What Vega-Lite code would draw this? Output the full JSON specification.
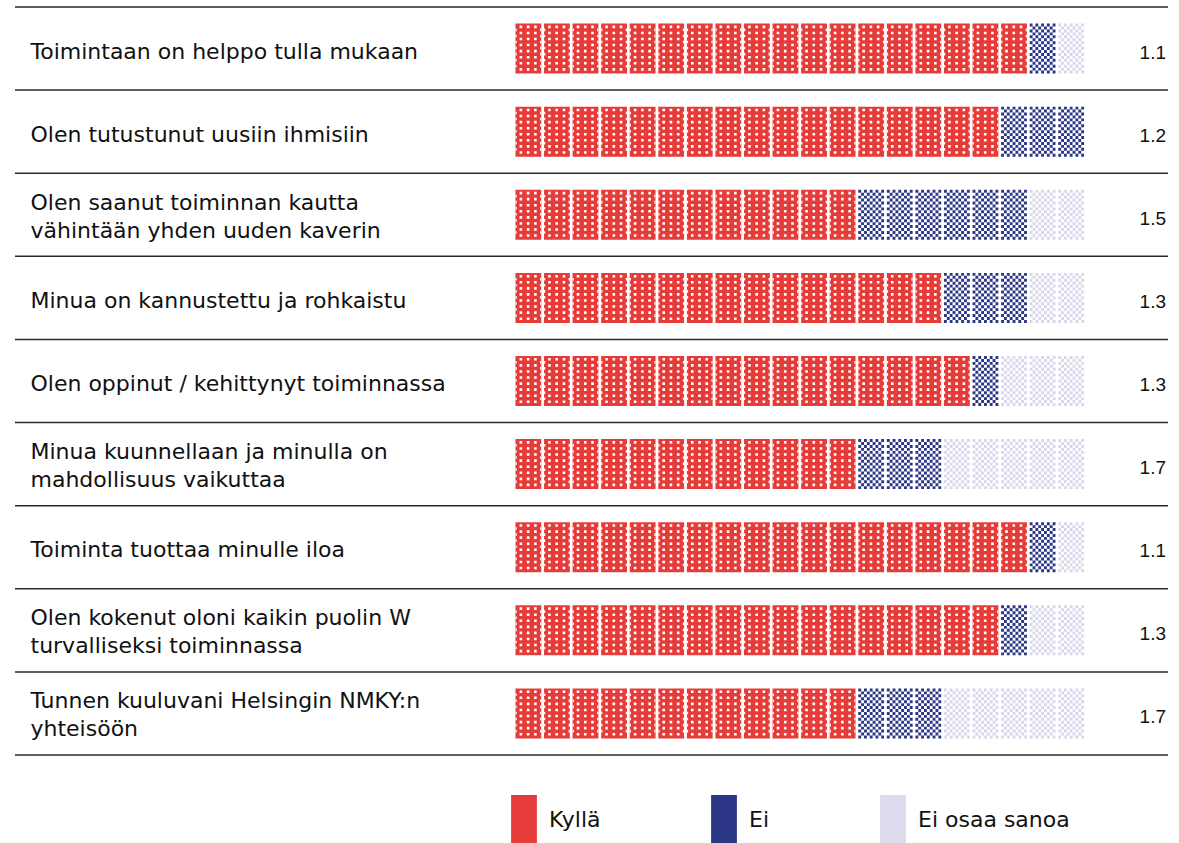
{
  "$schema": "https://vega.github.io/schema/vega-lite/v6.json",
  "width": 1153,
  "height": 748,
  "autosize": {"type": "none"},
  "padding": {"left": 15, "top": 7, "right": 11, "bottom": 88},
  "config": {"view": {"stroke": null}, "font": "DejaVu Sans"},
  "datasets": {
    "questions": [
      {"q": 1, "label": "Toimintaan on helppo tulla mukaan", "avg": 1.1},
      {"q": 2, "label": "Olen tutustunut uusiin ihmisiin", "avg": 1.2},
      {"q": 3, "label": "Olen saanut toiminnan kautta|vähintään yhden uuden kaverin", "avg": 1.5},
      {"q": 4, "label": "Minua on kannustettu ja rohkaistu", "avg": 1.3},
      {"q": 5, "label": "Olen oppinut / kehittynyt toiminnassa", "avg": 1.3},
      {"q": 6, "label": "Minua kuunnellaan ja minulla on|mahdollisuus vaikuttaa", "avg": 1.7},
      {"q": 7, "label": "Toiminta tuottaa minulle iloa", "avg": 1.1},
      {"q": 8, "label": "Olen kokenut oloni kaikin puolin W|turvalliseksi toiminnassa", "avg": 1.3},
      {"q": 9, "label": "Tunnen kuuluvani Helsingin NMKY:n|yhteisöön", "avg": 1.7}
    ],
    "units": [
      {"q":1,"u":1,"c":"Kyllä"},{"q":1,"u":2,"c":"Kyllä"},{"q":1,"u":3,"c":"Kyllä"},{"q":1,"u":4,"c":"Kyllä"},{"q":1,"u":5,"c":"Kyllä"},{"q":1,"u":6,"c":"Kyllä"},{"q":1,"u":7,"c":"Kyllä"},{"q":1,"u":8,"c":"Kyllä"},{"q":1,"u":9,"c":"Kyllä"},{"q":1,"u":10,"c":"Kyllä"},{"q":1,"u":11,"c":"Kyllä"},{"q":1,"u":12,"c":"Kyllä"},{"q":1,"u":13,"c":"Kyllä"},{"q":1,"u":14,"c":"Kyllä"},{"q":1,"u":15,"c":"Kyllä"},{"q":1,"u":16,"c":"Kyllä"},{"q":1,"u":17,"c":"Kyllä"},{"q":1,"u":18,"c":"Kyllä"},{"q":1,"u":19,"c":"Ei"},{"q":1,"u":20,"c":"Ei osaa sanoa"},
      {"q":2,"u":1,"c":"Kyllä"},{"q":2,"u":2,"c":"Kyllä"},{"q":2,"u":3,"c":"Kyllä"},{"q":2,"u":4,"c":"Kyllä"},{"q":2,"u":5,"c":"Kyllä"},{"q":2,"u":6,"c":"Kyllä"},{"q":2,"u":7,"c":"Kyllä"},{"q":2,"u":8,"c":"Kyllä"},{"q":2,"u":9,"c":"Kyllä"},{"q":2,"u":10,"c":"Kyllä"},{"q":2,"u":11,"c":"Kyllä"},{"q":2,"u":12,"c":"Kyllä"},{"q":2,"u":13,"c":"Kyllä"},{"q":2,"u":14,"c":"Kyllä"},{"q":2,"u":15,"c":"Kyllä"},{"q":2,"u":16,"c":"Kyllä"},{"q":2,"u":17,"c":"Kyllä"},{"q":2,"u":18,"c":"Ei"},{"q":2,"u":19,"c":"Ei"},{"q":2,"u":20,"c":"Ei"},
      {"q":3,"u":1,"c":"Kyllä"},{"q":3,"u":2,"c":"Kyllä"},{"q":3,"u":3,"c":"Kyllä"},{"q":3,"u":4,"c":"Kyllä"},{"q":3,"u":5,"c":"Kyllä"},{"q":3,"u":6,"c":"Kyllä"},{"q":3,"u":7,"c":"Kyllä"},{"q":3,"u":8,"c":"Kyllä"},{"q":3,"u":9,"c":"Kyllä"},{"q":3,"u":10,"c":"Kyllä"},{"q":3,"u":11,"c":"Kyllä"},{"q":3,"u":12,"c":"Kyllä"},{"q":3,"u":13,"c":"Ei"},{"q":3,"u":14,"c":"Ei"},{"q":3,"u":15,"c":"Ei"},{"q":3,"u":16,"c":"Ei"},{"q":3,"u":17,"c":"Ei"},{"q":3,"u":18,"c":"Ei"},{"q":3,"u":19,"c":"Ei osaa sanoa"},{"q":3,"u":20,"c":"Ei osaa sanoa"},
      {"q":4,"u":1,"c":"Kyllä"},{"q":4,"u":2,"c":"Kyllä"},{"q":4,"u":3,"c":"Kyllä"},{"q":4,"u":4,"c":"Kyllä"},{"q":4,"u":5,"c":"Kyllä"},{"q":4,"u":6,"c":"Kyllä"},{"q":4,"u":7,"c":"Kyllä"},{"q":4,"u":8,"c":"Kyllä"},{"q":4,"u":9,"c":"Kyllä"},{"q":4,"u":10,"c":"Kyllä"},{"q":4,"u":11,"c":"Kyllä"},{"q":4,"u":12,"c":"Kyllä"},{"q":4,"u":13,"c":"Kyllä"},{"q":4,"u":14,"c":"Kyllä"},{"q":4,"u":15,"c":"Kyllä"},{"q":4,"u":16,"c":"Ei"},{"q":4,"u":17,"c":"Ei"},{"q":4,"u":18,"c":"Ei"},{"q":4,"u":19,"c":"Ei osaa sanoa"},{"q":4,"u":20,"c":"Ei osaa sanoa"},
      {"q":5,"u":1,"c":"Kyllä"},{"q":5,"u":2,"c":"Kyllä"},{"q":5,"u":3,"c":"Kyllä"},{"q":5,"u":4,"c":"Kyllä"},{"q":5,"u":5,"c":"Kyllä"},{"q":5,"u":6,"c":"Kyllä"},{"q":5,"u":7,"c":"Kyllä"},{"q":5,"u":8,"c":"Kyllä"},{"q":5,"u":9,"c":"Kyllä"},{"q":5,"u":10,"c":"Kyllä"},{"q":5,"u":11,"c":"Kyllä"},{"q":5,"u":12,"c":"Kyllä"},{"q":5,"u":13,"c":"Kyllä"},{"q":5,"u":14,"c":"Kyllä"},{"q":5,"u":15,"c":"Kyllä"},{"q":5,"u":16,"c":"Kyllä"},{"q":5,"u":17,"c":"Ei"},{"q":5,"u":18,"c":"Ei osaa sanoa"},{"q":5,"u":19,"c":"Ei osaa sanoa"},{"q":5,"u":20,"c":"Ei osaa sanoa"},
      {"q":6,"u":1,"c":"Kyllä"},{"q":6,"u":2,"c":"Kyllä"},{"q":6,"u":3,"c":"Kyllä"},{"q":6,"u":4,"c":"Kyllä"},{"q":6,"u":5,"c":"Kyllä"},{"q":6,"u":6,"c":"Kyllä"},{"q":6,"u":7,"c":"Kyllä"},{"q":6,"u":8,"c":"Kyllä"},{"q":6,"u":9,"c":"Kyllä"},{"q":6,"u":10,"c":"Kyllä"},{"q":6,"u":11,"c":"Kyllä"},{"q":6,"u":12,"c":"Kyllä"},{"q":6,"u":13,"c":"Ei"},{"q":6,"u":14,"c":"Ei"},{"q":6,"u":15,"c":"Ei"},{"q":6,"u":16,"c":"Ei osaa sanoa"},{"q":6,"u":17,"c":"Ei osaa sanoa"},{"q":6,"u":18,"c":"Ei osaa sanoa"},{"q":6,"u":19,"c":"Ei osaa sanoa"},{"q":6,"u":20,"c":"Ei osaa sanoa"},
      {"q":7,"u":1,"c":"Kyllä"},{"q":7,"u":2,"c":"Kyllä"},{"q":7,"u":3,"c":"Kyllä"},{"q":7,"u":4,"c":"Kyllä"},{"q":7,"u":5,"c":"Kyllä"},{"q":7,"u":6,"c":"Kyllä"},{"q":7,"u":7,"c":"Kyllä"},{"q":7,"u":8,"c":"Kyllä"},{"q":7,"u":9,"c":"Kyllä"},{"q":7,"u":10,"c":"Kyllä"},{"q":7,"u":11,"c":"Kyllä"},{"q":7,"u":12,"c":"Kyllä"},{"q":7,"u":13,"c":"Kyllä"},{"q":7,"u":14,"c":"Kyllä"},{"q":7,"u":15,"c":"Kyllä"},{"q":7,"u":16,"c":"Kyllä"},{"q":7,"u":17,"c":"Kyllä"},{"q":7,"u":18,"c":"Kyllä"},{"q":7,"u":19,"c":"Ei"},{"q":7,"u":20,"c":"Ei osaa sanoa"},
      {"q":8,"u":1,"c":"Kyllä"},{"q":8,"u":2,"c":"Kyllä"},{"q":8,"u":3,"c":"Kyllä"},{"q":8,"u":4,"c":"Kyllä"},{"q":8,"u":5,"c":"Kyllä"},{"q":8,"u":6,"c":"Kyllä"},{"q":8,"u":7,"c":"Kyllä"},{"q":8,"u":8,"c":"Kyllä"},{"q":8,"u":9,"c":"Kyllä"},{"q":8,"u":10,"c":"Kyllä"},{"q":8,"u":11,"c":"Kyllä"},{"q":8,"u":12,"c":"Kyllä"},{"q":8,"u":13,"c":"Kyllä"},{"q":8,"u":14,"c":"Kyllä"},{"q":8,"u":15,"c":"Kyllä"},{"q":8,"u":16,"c":"Kyllä"},{"q":8,"u":17,"c":"Kyllä"},{"q":8,"u":18,"c":"Ei"},{"q":8,"u":19,"c":"Ei osaa sanoa"},{"q":8,"u":20,"c":"Ei osaa sanoa"},
      {"q":9,"u":1,"c":"Kyllä"},{"q":9,"u":2,"c":"Kyllä"},{"q":9,"u":3,"c":"Kyllä"},{"q":9,"u":4,"c":"Kyllä"},{"q":9,"u":5,"c":"Kyllä"},{"q":9,"u":6,"c":"Kyllä"},{"q":9,"u":7,"c":"Kyllä"},{"q":9,"u":8,"c":"Kyllä"},{"q":9,"u":9,"c":"Kyllä"},{"q":9,"u":10,"c":"Kyllä"},{"q":9,"u":11,"c":"Kyllä"},{"q":9,"u":12,"c":"Kyllä"},{"q":9,"u":13,"c":"Ei"},{"q":9,"u":14,"c":"Ei"},{"q":9,"u":15,"c":"Ei"},{"q":9,"u":16,"c":"Ei osaa sanoa"},{"q":9,"u":17,"c":"Ei osaa sanoa"},{"q":9,"u":18,"c":"Ei osaa sanoa"},{"q":9,"u":19,"c":"Ei osaa sanoa"},{"q":9,"u":20,"c":"Ei osaa sanoa"}
    ]
  },
  "encoding": {
    "y": {
      "field": "label",
      "type": "nominal",
      "sort": {"field": "q", "op": "min"},
      "scale": {"paddingInner": 0, "paddingOuter": 0},
      "axis": {
        "title": null,
        "domain": false,
        "ticks": false,
        "grid": false,
        "labelAlign": "left",
        "labelBaseline": "middle",
        "labelPadding": -15,
        "labelFont": "DejaVu Sans",
        "labelFontSize": 22,
        "labelColor": "#111111",
        "labelLimit": 0,
        "labelOverlap": false,
        "labelLineHeight": 28,
        "labelExpr": "split(datum.label, '|')",
        "labelOffset": {"condition": {"test": "indexof(datum.value, '|') >= 0", "value": -12}, "value": 3}
      }
    }
  },
  "layer": [
    {
      "data": {"name": "questions"},
      "mark": {"type": "rule", "color": "#2a2a2a", "strokeWidth": 1.5},
      "encoding": {
        "y": {
          "field": "label",
          "type": "nominal",
          "sort": {"field": "q", "op": "min"},
          "bandPosition": 0
        }
      }
    },
    {
      "data": {"values": [{}]},
      "mark": {"type": "rule", "color": "#2a2a2a", "strokeWidth": 1.5},
      "encoding": {"y": {"value": "height"}}
    },
    {
      "data": {"name": "units"},
      "transform": [
        {"lookup": "q", "from": {"data": {"name": "questions"}, "key": "q", "fields": ["label"]}},
        {"filter": "datum.c === 'Kyllä'"}
      ],
      "mark": {"type": "point", "filled": true, "opacity": 1, "strokeWidth": 0, "size": 2500, "shape": "M-0.516 -1h1.032v2h-1.032z"},
      "encoding": {
        "x": {"field": "u", "type": "quantitative", "scale": {"domain": [-16.97, 23.39], "nice": false, "zero": false}, "axis": null},
        "color": {
          "field": "c",
          "type": "nominal",
          "scale": {"domain": ["Kyllä", "Ei", "Ei osaa sanoa"], "range": ["#e63c39", "#2b3786", "#dcdcee"]},
          "legend": {
            "title": null,
            "orient": "none",
            "direction": "horizontal",
            "legendX": 484,
            "legendY": 788,
            "padding": 0,
            "columnPadding": 98,
            "labelOffset": 0,
            "symbolType": "M-0.516 -1h1.032v2h-1.032z",
            "symbolSize": 2500,
            "symbolStrokeWidth": 0,
            "symbolOpacity": 1,
            "labelFont": "DejaVu Sans",
            "labelFontSize": 22,
            "labelColor": "#111111"
          }
        }
      }
    },
    {
      "data": {"name": "units"},
      "transform": [
        {"lookup": "q", "from": {"data": {"name": "questions"}, "key": "q", "fields": ["label"]}},
        {"filter": "datum.c === 'Kyllä'"}
      ],
      "mark": {"type": "point", "filled": true, "opacity": 1, "strokeWidth": 0, "size": 2500, "fill": "#ffffff",
        "shape": "M-0.352 -0.92h0.104v0.104h-0.104v-0.104m0.29 0h0.104v0.104h-0.104v-0.104m0.29 0h0.104v0.104h-0.104v-0.104M-0.352 -0.6772h0.104v0.104h-0.104v-0.104m0.29 0h0.104v0.104h-0.104v-0.104m0.29 0h0.104v0.104h-0.104v-0.104M-0.352 -0.4344h0.104v0.104h-0.104v-0.104m0.29 0h0.104v0.104h-0.104v-0.104m0.29 0h0.104v0.104h-0.104v-0.104M-0.352 -0.1916h0.104v0.104h-0.104v-0.104m0.29 0h0.104v0.104h-0.104v-0.104m0.29 0h0.104v0.104h-0.104v-0.104M-0.352 0.0512h0.104v0.104h-0.104v-0.104m0.29 0h0.104v0.104h-0.104v-0.104m0.29 0h0.104v0.104h-0.104v-0.104M-0.352 0.294h0.104v0.104h-0.104v-0.104m0.29 0h0.104v0.104h-0.104v-0.104m0.29 0h0.104v0.104h-0.104v-0.104M-0.352 0.5368h0.104v0.104h-0.104v-0.104m0.29 0h0.104v0.104h-0.104v-0.104m0.29 0h0.104v0.104h-0.104v-0.104M-0.352 0.7796h0.104v0.104h-0.104v-0.104m0.29 0h0.104v0.104h-0.104v-0.104m0.29 0h0.104v0.104h-0.104v-0.104M-0.516 -0.8h0.05v0.104h-0.05v-0.104m0.982 0h0.05v0.104h-0.05v-0.104M-0.516 -0.5572h0.05v0.104h-0.05v-0.104m0.982 0h0.05v0.104h-0.05v-0.104M-0.516 -0.3144h0.05v0.104h-0.05v-0.104m0.982 0h0.05v0.104h-0.05v-0.104M-0.516 -0.0716h0.05v0.104h-0.05v-0.104m0.982 0h0.05v0.104h-0.05v-0.104M-0.516 0.1712h0.05v0.104h-0.05v-0.104m0.982 0h0.05v0.104h-0.05v-0.104M-0.516 0.414h0.05v0.104h-0.05v-0.104m0.982 0h0.05v0.104h-0.05v-0.104M-0.516 0.6568h0.05v0.104h-0.05v-0.104m0.982 0h0.05v0.104h-0.05v-0.104"},
      "encoding": {
        "x": {"field": "u", "type": "quantitative", "scale": {"domain": [-16.97, 23.39], "nice": false, "zero": false}, "axis": null}
      }
    },
    {
      "data": {"name": "units"},
      "transform": [
        {"lookup": "q", "from": {"data": {"name": "questions"}, "key": "q", "fields": ["label"]}},
        {"filter": "datum.c === 'Ei'"}
      ],
      "mark": {"type": "point", "filled": true, "opacity": 1, "strokeWidth": 0, "size": 2500, "fill": "#2b3786",
        "shape": "M-0.516 -1h0.1147v0.1176h-0.1147v-0.1176m0.2293 0h0.1147v0.1176h-0.1147v-0.1176m0.2293 0h0.1147v0.1176h-0.1147v-0.1176m0.2293 0h0.1147v0.1176h-0.1147v-0.1176m0.2293 0h0.1147v0.1176h-0.1147v-0.1176M-0.4013 -0.8824h0.1147v0.1176h-0.1147v-0.1176m0.2293 0h0.1147v0.1176h-0.1147v-0.1176m0.2293 0h0.1147v0.1176h-0.1147v-0.1176m0.2293 0h0.1147v0.1176h-0.1147v-0.1176M-0.516 -0.7647h0.1147v0.1176h-0.1147v-0.1176m0.2293 0h0.1147v0.1176h-0.1147v-0.1176m0.2293 0h0.1147v0.1176h-0.1147v-0.1176m0.2293 0h0.1147v0.1176h-0.1147v-0.1176m0.2293 0h0.1147v0.1176h-0.1147v-0.1176M-0.4013 -0.6471h0.1147v0.1176h-0.1147v-0.1176m0.2293 0h0.1147v0.1176h-0.1147v-0.1176m0.2293 0h0.1147v0.1176h-0.1147v-0.1176m0.2293 0h0.1147v0.1176h-0.1147v-0.1176M-0.516 -0.5294h0.1147v0.1176h-0.1147v-0.1176m0.2293 0h0.1147v0.1176h-0.1147v-0.1176m0.2293 0h0.1147v0.1176h-0.1147v-0.1176m0.2293 0h0.1147v0.1176h-0.1147v-0.1176m0.2293 0h0.1147v0.1176h-0.1147v-0.1176M-0.4013 -0.4118h0.1147v0.1176h-0.1147v-0.1176m0.2293 0h0.1147v0.1176h-0.1147v-0.1176m0.2293 0h0.1147v0.1176h-0.1147v-0.1176m0.2293 0h0.1147v0.1176h-0.1147v-0.1176M-0.516 -0.2941h0.1147v0.1176h-0.1147v-0.1176m0.2293 0h0.1147v0.1176h-0.1147v-0.1176m0.2293 0h0.1147v0.1176h-0.1147v-0.1176m0.2293 0h0.1147v0.1176h-0.1147v-0.1176m0.2293 0h0.1147v0.1176h-0.1147v-0.1176M-0.4013 -0.1765h0.1147v0.1176h-0.1147v-0.1176m0.2293 0h0.1147v0.1176h-0.1147v-0.1176m0.2293 0h0.1147v0.1176h-0.1147v-0.1176m0.2293 0h0.1147v0.1176h-0.1147v-0.1176M-0.516 -0.0588h0.1147v0.1176h-0.1147v-0.1176m0.2293 0h0.1147v0.1176h-0.1147v-0.1176m0.2293 0h0.1147v0.1176h-0.1147v-0.1176m0.2293 0h0.1147v0.1176h-0.1147v-0.1176m0.2293 0h0.1147v0.1176h-0.1147v-0.1176M-0.4013 0.0588h0.1147v0.1176h-0.1147v-0.1176m0.2293 0h0.1147v0.1176h-0.1147v-0.1176m0.2293 0h0.1147v0.1176h-0.1147v-0.1176m0.2293 0h0.1147v0.1176h-0.1147v-0.1176M-0.516 0.1765h0.1147v0.1176h-0.1147v-0.1176m0.2293 0h0.1147v0.1176h-0.1147v-0.1176m0.2293 0h0.1147v0.1176h-0.1147v-0.1176m0.2293 0h0.1147v0.1176h-0.1147v-0.1176m0.2293 0h0.1147v0.1176h-0.1147v-0.1176M-0.4013 0.2941h0.1147v0.1176h-0.1147v-0.1176m0.2293 0h0.1147v0.1176h-0.1147v-0.1176m0.2293 0h0.1147v0.1176h-0.1147v-0.1176m0.2293 0h0.1147v0.1176h-0.1147v-0.1176M-0.516 0.4118h0.1147v0.1176h-0.1147v-0.1176m0.2293 0h0.1147v0.1176h-0.1147v-0.1176m0.2293 0h0.1147v0.1176h-0.1147v-0.1176m0.2293 0h0.1147v0.1176h-0.1147v-0.1176m0.2293 0h0.1147v0.1176h-0.1147v-0.1176M-0.4013 0.5294h0.1147v0.1176h-0.1147v-0.1176m0.2293 0h0.1147v0.1176h-0.1147v-0.1176m0.2293 0h0.1147v0.1176h-0.1147v-0.1176m0.2293 0h0.1147v0.1176h-0.1147v-0.1176M-0.516 0.6471h0.1147v0.1176h-0.1147v-0.1176m0.2293 0h0.1147v0.1176h-0.1147v-0.1176m0.2293 0h0.1147v0.1176h-0.1147v-0.1176m0.2293 0h0.1147v0.1176h-0.1147v-0.1176m0.2293 0h0.1147v0.1176h-0.1147v-0.1176M-0.4013 0.7647h0.1147v0.1176h-0.1147v-0.1176m0.2293 0h0.1147v0.1176h-0.1147v-0.1176m0.2293 0h0.1147v0.1176h-0.1147v-0.1176m0.2293 0h0.1147v0.1176h-0.1147v-0.1176M-0.516 0.8824h0.1147v0.1176h-0.1147v-0.1176m0.2293 0h0.1147v0.1176h-0.1147v-0.1176m0.2293 0h0.1147v0.1176h-0.1147v-0.1176m0.2293 0h0.1147v0.1176h-0.1147v-0.1176m0.2293 0h0.1147v0.1176h-0.1147v-0.1176"},
      "encoding": {
        "x": {"field": "u", "type": "quantitative", "scale": {"domain": [-16.97, 23.39], "nice": false, "zero": false}, "axis": null}
      }
    },
    {
      "data": {"name": "units"},
      "transform": [
        {"lookup": "q", "from": {"data": {"name": "questions"}, "key": "q", "fields": ["label"]}},
        {"filter": "datum.c === 'Ei osaa sanoa'"}
      ],
      "mark": {"type": "point", "filled": true, "opacity": 1, "strokeWidth": 0, "size": 2500, "fill": "#d8d8ec",
        "shape": "M-0.516 -1h0.1147v0.1176h-0.1147v-0.1176m0.2293 0h0.1147v0.1176h-0.1147v-0.1176m0.2293 0h0.1147v0.1176h-0.1147v-0.1176m0.2293 0h0.1147v0.1176h-0.1147v-0.1176m0.2293 0h0.1147v0.1176h-0.1147v-0.1176M-0.4013 -0.8824h0.1147v0.1176h-0.1147v-0.1176m0.2293 0h0.1147v0.1176h-0.1147v-0.1176m0.2293 0h0.1147v0.1176h-0.1147v-0.1176m0.2293 0h0.1147v0.1176h-0.1147v-0.1176M-0.516 -0.7647h0.1147v0.1176h-0.1147v-0.1176m0.2293 0h0.1147v0.1176h-0.1147v-0.1176m0.2293 0h0.1147v0.1176h-0.1147v-0.1176m0.2293 0h0.1147v0.1176h-0.1147v-0.1176m0.2293 0h0.1147v0.1176h-0.1147v-0.1176M-0.4013 -0.6471h0.1147v0.1176h-0.1147v-0.1176m0.2293 0h0.1147v0.1176h-0.1147v-0.1176m0.2293 0h0.1147v0.1176h-0.1147v-0.1176m0.2293 0h0.1147v0.1176h-0.1147v-0.1176M-0.516 -0.5294h0.1147v0.1176h-0.1147v-0.1176m0.2293 0h0.1147v0.1176h-0.1147v-0.1176m0.2293 0h0.1147v0.1176h-0.1147v-0.1176m0.2293 0h0.1147v0.1176h-0.1147v-0.1176m0.2293 0h0.1147v0.1176h-0.1147v-0.1176M-0.4013 -0.4118h0.1147v0.1176h-0.1147v-0.1176m0.2293 0h0.1147v0.1176h-0.1147v-0.1176m0.2293 0h0.1147v0.1176h-0.1147v-0.1176m0.2293 0h0.1147v0.1176h-0.1147v-0.1176M-0.516 -0.2941h0.1147v0.1176h-0.1147v-0.1176m0.2293 0h0.1147v0.1176h-0.1147v-0.1176m0.2293 0h0.1147v0.1176h-0.1147v-0.1176m0.2293 0h0.1147v0.1176h-0.1147v-0.1176m0.2293 0h0.1147v0.1176h-0.1147v-0.1176M-0.4013 -0.1765h0.1147v0.1176h-0.1147v-0.1176m0.2293 0h0.1147v0.1176h-0.1147v-0.1176m0.2293 0h0.1147v0.1176h-0.1147v-0.1176m0.2293 0h0.1147v0.1176h-0.1147v-0.1176M-0.516 -0.0588h0.1147v0.1176h-0.1147v-0.1176m0.2293 0h0.1147v0.1176h-0.1147v-0.1176m0.2293 0h0.1147v0.1176h-0.1147v-0.1176m0.2293 0h0.1147v0.1176h-0.1147v-0.1176m0.2293 0h0.1147v0.1176h-0.1147v-0.1176M-0.4013 0.0588h0.1147v0.1176h-0.1147v-0.1176m0.2293 0h0.1147v0.1176h-0.1147v-0.1176m0.2293 0h0.1147v0.1176h-0.1147v-0.1176m0.2293 0h0.1147v0.1176h-0.1147v-0.1176M-0.516 0.1765h0.1147v0.1176h-0.1147v-0.1176m0.2293 0h0.1147v0.1176h-0.1147v-0.1176m0.2293 0h0.1147v0.1176h-0.1147v-0.1176m0.2293 0h0.1147v0.1176h-0.1147v-0.1176m0.2293 0h0.1147v0.1176h-0.1147v-0.1176M-0.4013 0.2941h0.1147v0.1176h-0.1147v-0.1176m0.2293 0h0.1147v0.1176h-0.1147v-0.1176m0.2293 0h0.1147v0.1176h-0.1147v-0.1176m0.2293 0h0.1147v0.1176h-0.1147v-0.1176M-0.516 0.4118h0.1147v0.1176h-0.1147v-0.1176m0.2293 0h0.1147v0.1176h-0.1147v-0.1176m0.2293 0h0.1147v0.1176h-0.1147v-0.1176m0.2293 0h0.1147v0.1176h-0.1147v-0.1176m0.2293 0h0.1147v0.1176h-0.1147v-0.1176M-0.4013 0.5294h0.1147v0.1176h-0.1147v-0.1176m0.2293 0h0.1147v0.1176h-0.1147v-0.1176m0.2293 0h0.1147v0.1176h-0.1147v-0.1176m0.2293 0h0.1147v0.1176h-0.1147v-0.1176M-0.516 0.6471h0.1147v0.1176h-0.1147v-0.1176m0.2293 0h0.1147v0.1176h-0.1147v-0.1176m0.2293 0h0.1147v0.1176h-0.1147v-0.1176m0.2293 0h0.1147v0.1176h-0.1147v-0.1176m0.2293 0h0.1147v0.1176h-0.1147v-0.1176M-0.4013 0.7647h0.1147v0.1176h-0.1147v-0.1176m0.2293 0h0.1147v0.1176h-0.1147v-0.1176m0.2293 0h0.1147v0.1176h-0.1147v-0.1176m0.2293 0h0.1147v0.1176h-0.1147v-0.1176M-0.516 0.8824h0.1147v0.1176h-0.1147v-0.1176m0.2293 0h0.1147v0.1176h-0.1147v-0.1176m0.2293 0h0.1147v0.1176h-0.1147v-0.1176m0.2293 0h0.1147v0.1176h-0.1147v-0.1176m0.2293 0h0.1147v0.1176h-0.1147v-0.1176"},
      "encoding": {
        "x": {"field": "u", "type": "quantitative", "scale": {"domain": [-16.97, 23.39], "nice": false, "zero": false}, "axis": null}
      }
    },
    {
      "data": {"name": "questions"},
      "mark": {"type": "text", "align": "right", "baseline": "middle", "font": "Liberation Sans", "fontSize": 19, "color": "#111111", "dx": -2, "dy": 4},
      "encoding": {
        "x": {"value": "width"},
        "text": {"field": "avg", "type": "quantitative", "format": ".1f"}
      }
    }
  ]
}
